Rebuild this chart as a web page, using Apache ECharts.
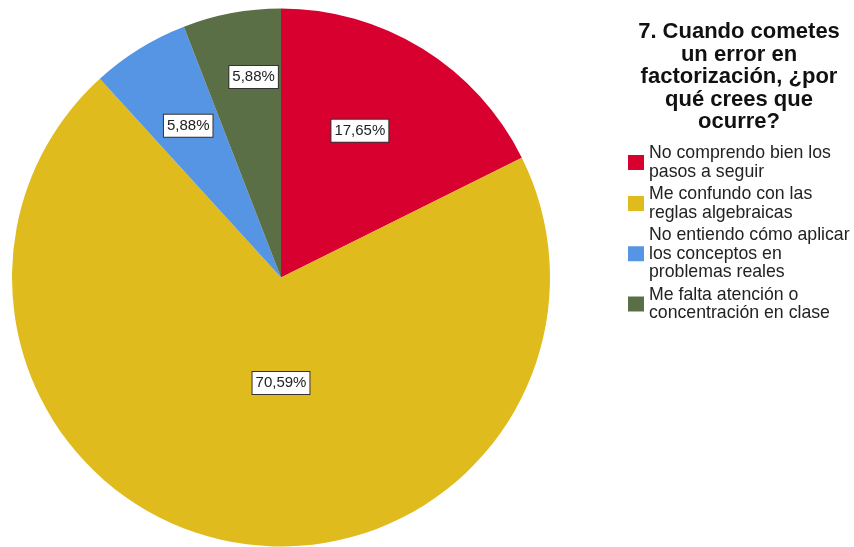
<!DOCTYPE html>
<html>
<head>
<meta charset="utf-8">
<style>
  html, body { margin: 0; padding: 0; background: #ffffff; }
  #chart { width: 854px; height: 547px; }
</style>
<script src="https://cdn.jsdelivr.net/npm/echarts@6/dist/echarts.min.js"></script>
</head>
<body>
<div id="chart"></div>
<script>
// Survey answers and their share of responses (%)
const categories = [
  'No comprendo bien los\npasos a seguir',
  'Me confundo con las\nreglas algebraicas',
  'No entiendo cómo aplicar\nlos conceptos en\nproblemas reales',
  'Me falta atención o\nconcentración en clase'
];
const shares = [17.65, 70.59, 5.88, 5.88];
const sliceColors = ['#d7002f', '#e0bb1e', '#5595e4', '#5a6f46'];
const titleText = '7. Cuando cometes\nun error en\nfactorización, ¿por\nqué crees que\nocurre?';

// Pie geometry
const CX = 281, CY = 277.5, R = 269;

// Mid-angle of each slice, degrees clockwise from 12 o'clock
const total = shares.reduce((a, b) => a + b, 0);
let acc = 0;
const midAngles = shares.map(v => {
  const m = acc + v / 2;
  acc += v;
  return m / total * 360;
});

// Where each value box sits: [fraction of radius, angular nudge in degrees]
const labelSpots = [[0.619, -3.5], [0.392, -10.6], [0.661, 0.3], [0.752, 2.8]];

const chart = echarts.init(document.getElementById('chart'), null, { renderer: 'canvas' });

chart.setOption({
  animation: false,
  backgroundColor: '#ffffff',
  title: {
    text: titleText,
    left: 734,
    top: 16,
    textAlign: 'center',
    textStyle: {
      fontFamily: 'Liberation Sans, Arial, sans-serif',
      fontWeight: 'bold',
      fontSize: 22,
      lineHeight: 22.5,
      color: '#111111',
      align: 'center'
    }
  },
  legend: {
    orient: 'vertical',
    left: 623,
    top: 139,
    icon: 'rect',
    itemWidth: 16,
    itemHeight: 15,
    itemGap: 4,
    selectedMode: false,
    data: categories,
    textStyle: {
      fontFamily: 'Liberation Sans, Arial, sans-serif',
      fontSize: 17.7,
      lineHeight: 18.5,
      color: '#222222',
      padding: [0, 0, 0, 0]
    }
  },
  series: [{
    type: 'pie',
    center: [CX, CY],
    radius: [0, R],
    startAngle: 90,
    clockwise: true,
    silent: true,
    avoidLabelOverlap: false,
    itemStyle: { borderWidth: 0 },
    label: {
      show: true,
      position: 'inside',
      formatter: p => p.value.toFixed(2).replace('.', ',') + '%',
      fontFamily: 'Liberation Sans, Arial, sans-serif',
      fontSize: 15,
      color: '#222222',
      backgroundColor: '#ffffff',
      borderColor: '#333333',
      borderWidth: 1,
      padding: [4, 3, 3, 3]
    },
    labelLine: { show: false },
    labelLayout: function (p) {
      const i = p.dataIndex;
      const spot = labelSpots[i];
      const a = (midAngles[i] + spot[1]) * Math.PI / 180;
      return {
        x: CX + spot[0] * R * Math.sin(a),
        y: CY - spot[0] * R * Math.cos(a),
        align: 'center',
        verticalAlign: 'middle'
      };
    },
    data: categories.map((name, i) => ({
      name: name,
      value: shares[i],
      itemStyle: { color: sliceColors[i] }
    }))
  }]
});
</script>
</body>
</html>
